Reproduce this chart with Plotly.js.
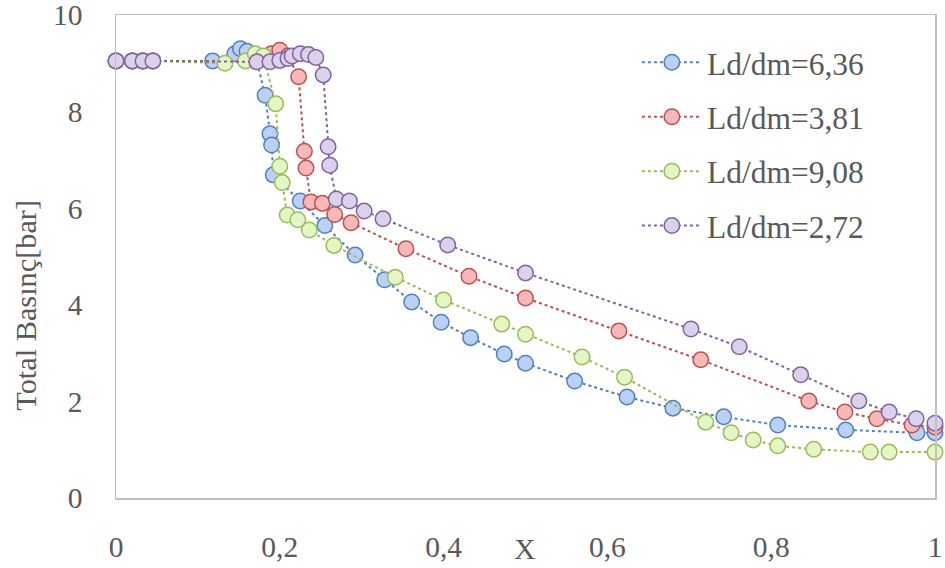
<!DOCTYPE html>
<html>
<head>
<meta charset="utf-8">
<script src="https://cdn.plot.ly/plotly-3.0.1.min.js"></script>
<style>html,body{margin:0;padding:0;background:#fff}#chart{width:945px;height:568px}</style>
</head>
<body>
<div id="chart"></div>
<script>
// Series names
const seriesNames = ["Ld/dm=6,36", "Ld/dm=3,81", "Ld/dm=9,08", "Ld/dm=2,72"];

// Ld/dm=6,36 (blue)
const xBlue = [0,0.02,0.032,0.045,0.118,0.145,0.152,0.16,0.172,0.182,0.188,0.19,0.192,0.225,0.255,0.292,0.328,0.361,0.397,0.433,0.474,0.5,0.56,0.624,0.68,0.742,0.808,0.891,0.978,1.0];
const yBlue = [9.05,9.05,9.05,9.05,9.05,9.2,9.3,9.25,9.05,8.34,7.54,7.31,6.69,6.15,5.64,5.03,4.52,4.06,3.64,3.32,2.98,2.79,2.42,2.09,1.86,1.68,1.51,1.41,1.35,1.35];

// Ld/dm=3,81 (red)
const xRed = [0,0.02,0.033,0.045,0.17,0.19,0.2,0.21,0.223,0.23,0.232,0.238,0.252,0.267,0.287,0.354,0.431,0.5,0.614,0.714,0.846,0.89,0.929,0.972,1.0];
const yRed = [9.05,9.05,9.05,9.05,9.05,9.2,9.27,9.15,8.72,7.18,6.83,6.13,6.1,5.87,5.7,5.16,4.59,4.14,3.46,2.86,2.01,1.78,1.64,1.51,1.47];

// Ld/dm=9,08 (green)
const xGreen = [0,0.02,0.033,0.045,0.133,0.158,0.17,0.18,0.195,0.2,0.203,0.209,0.222,0.236,0.266,0.341,0.4,0.471,0.5,0.569,0.621,0.72,0.751,0.778,0.808,0.852,0.921,0.944,1.0];
const yGreen = [9.05,9.05,9.05,9.05,9.0,9.05,9.2,9.15,8.16,6.87,6.53,5.86,5.76,5.55,5.23,4.57,4.1,3.6,3.39,2.92,2.5,1.57,1.35,1.2,1.08,1.01,0.95,0.95,0.95];

// Ld/dm=2,72 (purple)
const xPurple = [0,0.02,0.033,0.045,0.172,0.188,0.2,0.21,0.215,0.225,0.235,0.244,0.253,0.259,0.261,0.269,0.285,0.303,0.326,0.405,0.5,0.702,0.761,0.836,0.907,0.944,0.977,1.0];
const yPurple = [9.05,9.05,9.05,9.05,9.03,9.03,9.06,9.1,9.15,9.2,9.18,9.12,8.76,7.27,6.89,6.19,6.15,5.94,5.78,5.24,4.66,3.5,3.13,2.55,2.01,1.78,1.64,1.55];

// Axis ticks
const xTickVals = [0, 0.2, 0.4, 0.6, 0.8, 1];
const xTickText = ["0", "0,2", "0,4", "0,6", "0,8", "1"];
const yTickVals = [0, 2, 4, 6, 8, 10];
const yTickText = ["0", "2", "4", "6", "8", "10"];

const lineColors = ["#4f81bd", "#c0504d", "#9bbb59", "#8064a2"];
const fillColors = ["#b9d1f5", "#f7b9b8", "#e3f6c4", "#dcd1ec"];
const xs = [xBlue, xRed, xGreen, xPurple];
const ys = [yBlue, yRed, yGreen, yPurple];

const FONT = "Liberation Serif";
const GREY = "#595959";

const traces = seriesNames.map((name, i) => ({
  type: "scatter",
  mode: "lines+markers",
  name: name,
  legendgroup: "g" + i,
  x: xs[i],
  y: ys[i],
  cliponaxis: false,
  line: {color: lineColors[i], width: 2, dash: "dot"},
  marker: {symbol: "circle", size: 15.5, color: fillColors[i], line: {color: lineColors[i], width: 1.5}}
}));

const layout = {
  width: 945,
  height: 568,
  margin: {l: 116, r: 10, t: 15, b: 70},
  paper_bgcolor: "#ffffff",
  plot_bgcolor: "#ffffff",
  font: {family: FONT, size: 29, color: GREY},
  showlegend: true,
  legend: {
    x: 0.636, y: 0.958, xanchor: "left", yanchor: "top",
    font: {family: FONT, size: 31.5, color: GREY},
    bgcolor: "rgba(0,0,0,0)",
    traceorder: "grouped",
    tracegroupgap: 10.5,
    itemwidth: 60
  },
  xaxis: {
    range: [0, 1],
    tickvals: xTickVals,
    ticktext: xTickText,
    showgrid: false,
    zeroline: false,
    showline: true,
    mirror: true,
    linecolor: "#bfbfbf",
    linewidth: 1.5,
    ticks: "",
    ticklabelstandoff: 22,
    ticklabeloverflow: "allow",
    tickfont: {family: FONT, size: 29.5, color: GREY}
  },
  yaxis: {
    range: [0, 10],
    tickvals: yTickVals,
    ticktext: yTickText,
    showgrid: false,
    zeroline: false,
    showline: true,
    mirror: true,
    linecolor: "#bfbfbf",
    linewidth: 1.5,
    ticks: "",
    ticklabelstandoff: 26,
    ticklabeloverflow: "allow",
    tickfont: {family: FONT, size: 29.5, color: GREY}
  },
  annotations: [
    {text: "Total Basınç[bar]", xref: "paper", yref: "paper", x: -0.11, y: 0.4, textangle: -90,
     showarrow: false, xanchor: "center", yanchor: "middle", font: {family: FONT, size: 30.3, color: GREY}},
    {text: "X", xref: "paper", yref: "paper", x: 0.4994, y: -0.104, showarrow: false,
     xanchor: "center", yanchor: "middle", font: {family: FONT, size: 30, color: GREY}}
  ]
};

Plotly.newPlot("chart", traces, layout, {displayModeBar: false, staticPlot: true});
</script>
</body>
</html>
